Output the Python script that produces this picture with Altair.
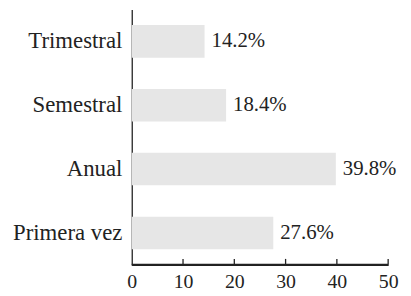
import altair as alt
import pandas as pd

categories = ["Trimestral", "Semestral", "Anual", "Primera vez"]
values = [14.2, 18.4, 39.8, 27.6]
x_ticks = [0, 10, 20, 30, 40, 50]

df = pd.DataFrame({"cat": categories, "v": values})
ticks_df = pd.DataFrame({"v": x_ticks[1:]})
base_df = pd.DataFrame({"v": [x_ticks[0]], "v2": [x_ticks[-1]]})

FONT = "Liberation Serif"
W, H = 259, 258

xscale = alt.Scale(domain=[0, 50], nice=False)
xaxis = alt.Axis(title=None, values=x_ticks, ticks=False, grid=False,
                 labelFontSize=20, labelFont=FONT, labelColor="#222",
                 labelPadding=7, domain=True, domainColor="#222",
                 domainWidth=1.5, labelFlush=False)
yaxis = alt.Axis(title=None, ticks=False, labelPadding=10, labelFontSize=23,
                 labelFont=FONT, labelColor="#222", domain=True,
                 domainColor="#222", domainWidth=1.3)

xenc = alt.X("v:Q", scale=xscale, axis=xaxis)
yenc = alt.Y("cat:N", sort=categories,
             scale=alt.Scale(paddingInner=0.49, paddingOuter=0.245), axis=yaxis)

base = alt.Chart(df).encode(x=xenc, y=yenc)

bars = base.mark_bar(color="#e6e6e6")

labels = base.transform_calculate(
    lab="format(datum.v, '.1f') + '%'"
).mark_text(align="left", baseline="middle", dx=7, fontSize=21, font=FONT,
            color="#222").encode(text="lab:N")

tick_marks = alt.Chart(ticks_df).mark_rule(color="#222", strokeWidth=1.3).encode(
    x=xenc,
    y=alt.value(H),
    y2=alt.value(H - 6),
)

baseline = alt.Chart(base_df).mark_rect(color="#222").encode(
    x=xenc,
    x2="v2:Q",
    y=alt.value(H - 1),
    y2=alt.value(H + 1),
)

chart = alt.layer(bars, labels, tick_marks, baseline).properties(
    width=W, height=H,
    autosize=alt.AutoSizeParams(type="none"),
    padding={"left": 125, "top": 0, "right": 15, "bottom": 30},
).configure_view(stroke=None)

chart.save("out.html", embed_options={"renderer": "svg", "actions": False})
